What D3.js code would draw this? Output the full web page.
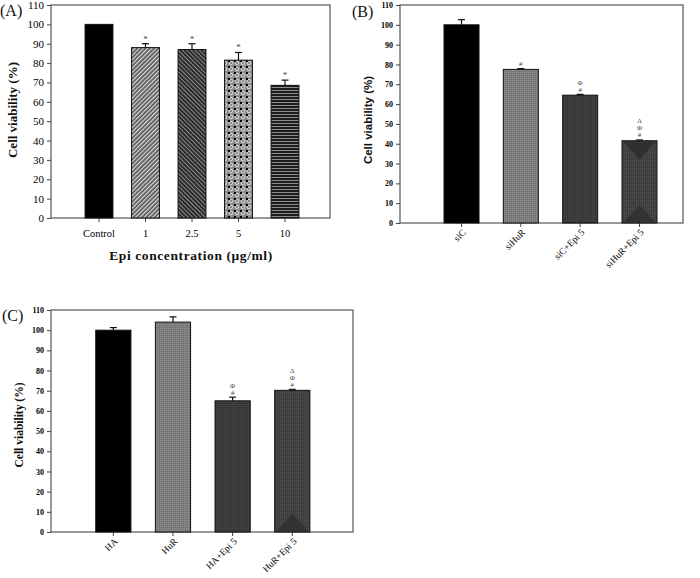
<!DOCTYPE html>
<html lang="en">
<head>
  <meta charset="UTF-8">
  <title>Cell viability</title>
  <script src="https://d3js.org/d3.v7.min.js"></script>
  <style>
    body { margin: 0; background: #fff; }
    svg { display: block; }
    .serif { font-family: "Liberation Serif", "DejaVu Serif", serif; }
    .sans { font-family: "Liberation Sans", Arial, sans-serif; }
  </style>
</head>
<body>
<div class="main"></div>
<script>
  // panel A
  var catsA = ["Control", "1", "2.5", "5", "10"];
  var valsA = [100, 88, 87, 81.5, 68.5];
  var errA = [0, 2, 3, 4, 2.7];
  var marksA = [[], ["*"], ["*"], ["*"], ["*"]];

  // panel B
  var catsB = ["siC", "siHuR", "siC+Epi 5", "siHuR+Epi 5"];
  var valsB = [100, 77.5, 64.5, 41.5];
  var errB = [2.6, 0.4, 0.4, 0.4];
  var marksB = [[], ["#"], ["#", "Φ"], ["#", "Φ", "Δ"]];

  // panel C
  var catsC = ["HA", "HuR", "HA+Epi 5", "HuR+Epi 5"];
  var valsC = [100, 104, 65, 70.2];
  var errC = [1.3, 2.6, 1.8, 0.5];
  var marksC = [[], [], ["#", "Φ"], ["#", "Φ", "Δ"]];

  var yTicks = d3.range(0, 111, 10);

  let width = 700;
  let height = 578;
  let svg = d3.select(".main").append("svg").attr("width", width).attr("height", height);
  let defs = svg.append("defs");

  // fill patterns
  function stripes(id, angle, bg, fg, size, lw) {
    let p = defs.append("pattern").attr("id", id).attr("patternUnits", "userSpaceOnUse")
      .attr("width", size).attr("height", size).attr("patternTransform", "rotate(" + angle + ")");
    p.append("rect").attr("width", size).attr("height", size).attr("fill", bg);
    p.append("rect").attr("width", lw).attr("height", size).attr("fill", fg);
  }
  stripes("pA1", 45, "#555", "#d8d8d8", 3, 1.3);
  stripes("pA2", -45, "#2a2a2a", "#8a8a8a", 3, 1);
  stripes("pA4", 90, "#1c1c1c", "#8e8e8e", 3, 1);

  let dots = defs.append("pattern").attr("id", "pA3").attr("patternUnits", "userSpaceOnUse")
    .attr("width", 6).attr("height", 6);
  dots.append("rect").attr("width", 6).attr("height", 6).attr("fill", "#8a8a8a");
  dots.append("circle").attr("cx", 3).attr("cy", 3).attr("r", 1.8).attr("fill", "none").attr("stroke", "#dcdcdc").attr("stroke-width", 0.9);
  dots.append("rect").attr("x", 0).attr("y", 0).attr("width", 2).attr("height", 2).attr("fill", "#000");

  function fineDots(id, bg, fg) {
    let p = defs.append("pattern").attr("id", id).attr("patternUnits", "userSpaceOnUse")
      .attr("width", 2).attr("height", 2);
    p.append("rect").attr("width", 2).attr("height", 2).attr("fill", bg);
    p.append("rect").attr("width", 1).attr("height", 1).attr("fill", fg);
  }
  fineDots("pMid", "#777", "#959595");
  fineDots("pDark", "#373737", "#4a4a4a");
  fineDots("pDark2", "#3d3d3d", "#525252");

  var fillsA = ["#000", "url(#pA1)", "url(#pA2)", "url(#pA3)", "url(#pA4)"];
  var fillsBC = ["#000", "url(#pMid)", "url(#pDark)", "url(#pDark2)"];

  function panel(cfg) {
    let g = svg.append("g");
    let y = d3.scaleLinear().domain([0, 110]).range([cfg.bottom, cfg.top]);
    let x = d3.scaleBand().domain(cfg.cats).range(cfg.xr).paddingInner(cfg.pad).paddingOuter(cfg.pad / 2);

    // frame
    g.append("rect").attr("x", cfg.left).attr("y", cfg.top).attr("width", cfg.right - cfg.left)
      .attr("height", cfg.bottom - cfg.top).attr("fill", "none").attr("stroke", "#555").attr("stroke-width", 1.2);

    // y axis
    let ya = g.append("g").attr("transform", "translate(" + cfg.left + ",0)")
      .call(d3.axisLeft(y).tickValues(yTicks).tickSize(4).tickPadding(3));
    ya.select(".domain").remove();
    ya.selectAll("line").attr("stroke", "#444");
    ya.selectAll("text").attr("class", "serif").attr("font-size", cfg.tickFont)
      .attr("font-weight", cfg.tickBold ? "bold" : "normal").attr("fill", "#000");

    // x axis
    let xa = g.append("g").attr("transform", "translate(0," + cfg.bottom + ")")
      .call(d3.axisBottom(x).tickSize(4).tickPadding(8));
    xa.select(".domain").remove();
    xa.selectAll("line").attr("stroke", "#444");
    if (cfg.rotate) {
      xa.selectAll("text").remove();
      // slanted category labels, each in its own rotated group
      g.selectAll(".xlab").data(cfg.cats).enter().append("g").attr("class", "xlab")
        .attr("transform", d => "translate(" + (x(d) + x.bandwidth() / 2 + 5) + "," + (cfg.bottom + 10) + ") rotate(-45)")
        .append("text").attr("class", "serif")
        .attr("font-size", cfg.xFont).attr("fill", "#000").attr("text-anchor", "end")
        .text(d => d);
    } else {
      xa.selectAll("text").attr("class", "serif").attr("font-size", cfg.xFont).attr("fill", "#000");
    }

    // bars
    g.selectAll(".bar").data(cfg.vals).enter().append("rect")
      .attr("x", (d, i) => x(cfg.cats[i])).attr("y", d => y(d))
      .attr("width", x.bandwidth()).attr("height", d => y(0) - y(d))
      .attr("fill", (d, i) => cfg.fills[i]).attr("stroke", "#111").attr("stroke-width", 1);

    // shading triangles seen in the last bar
    if (cfg.tri) {
      let i = cfg.cats.length - 1;
      let x0 = x(cfg.cats[i]), x1 = x0 + x.bandwidth(), xm = (x0 + x1) / 2;
      g.append("path").attr("d", "M" + (x0 + 1) + "," + (y(0) - 0.5) + "L" + xm + "," + y(9) + "L" + (x1 - 1) + "," + (y(0) - 0.5) + "Z")
        .attr("fill", "#2e2e2e").attr("opacity", 0.8);
      if (cfg.tri > 1) {
        g.append("path").attr("d", "M" + (x0 + 1) + "," + (y(cfg.vals[i]) + 0.5) + "L" + xm + "," + y(32) + "L" + (x1 - 1) + "," + (y(cfg.vals[i]) + 0.5) + "Z")
          .attr("fill", "#2c2c2c").attr("opacity", 0.8);
      }
    }

    // error bars
    cfg.vals.forEach(function (v, i) {
      if (!cfg.errs[i]) return;
      let cx = x(cfg.cats[i]) + x.bandwidth() / 2;
      g.append("line").attr("x1", cx).attr("x2", cx).attr("y1", y(v)).attr("y2", y(v + cfg.errs[i]))
        .attr("stroke", "#111").attr("stroke-width", 1.2);
      g.append("line").attr("x1", cx - 3.5).attr("x2", cx + 3.5).attr("y1", y(v + cfg.errs[i])).attr("y2", y(v + cfg.errs[i]))
        .attr("stroke", "#111").attr("stroke-width", 1.2);
    });

    // significance marks, stacked above the bar
    cfg.marks.forEach(function (m, i) {
      let cx = x(cfg.cats[i]) + x.bandwidth() / 2;
      m.forEach(function (s, k) {
        g.append("text").attr("class", "serif").attr("x", cx)
          .attr("y", y(cfg.vals[i] + cfg.errs[i]) - cfg.markGap - k * cfg.markStep)
          .attr("text-anchor", "middle").attr("font-size", cfg.markFont).attr("fill", "#444").text(s);
      });
    });

    // y title
    g.append("text").attr("class", cfg.yClass).attr("font-weight", "bold").attr("font-size", cfg.yFont)
      .attr("text-anchor", "middle").attr("fill", "#111")
      .attr("transform", "translate(" + cfg.yLabX + "," + cfg.yLabY + ") rotate(-90)").text("Cell viability (%)");

    // panel letter
    g.append("text").attr("class", "serif").attr("font-size", 16).attr("fill", "#111")
      .attr("x", cfg.letterX).attr("y", cfg.letterY).text(cfg.letter);
    return g;
  }

  panel({
    cats: catsA, vals: valsA, errs: errA, marks: marksA, fills: fillsA,
    left: 51, right: 330, top: 5, bottom: 218, xr: [75.75, 308.25], pad: 0.4,
    tickFont: 11, tickBold: false, xFont: 10.5, rotate: false,
    markFont: 9, markGap: 2, markStep: 7,
    yClass: "serif", yFont: 13, yLabX: 17, yLabY: 110,
    letter: "(A)", letterX: 0, letterY: 16
  });

  svg.append("text").attr("class", "serif").attr("font-weight", "bold").attr("font-size", 13.5)
    .attr("letter-spacing", 0.6).attr("text-anchor", "middle").attr("fill", "#111")
    .attr("x", 191).attr("y", 260).text("Epi concentration (μg/ml)");

  panel({
    cats: catsB, vals: valsB, errs: errB, marks: marksB, fills: fillsBC,
    left: 400, right: 683, top: 5, bottom: 223, xr: [431.85, 669.15], pad: 0.41,
    tickFont: 8, tickBold: true, xFont: 9.5, rotate: true,
    markFont: 7, markGap: 2.5, markStep: 7, tri: 2,
    yClass: "sans", yFont: 11.5, yLabX: 372, yLabY: 120,
    letter: "(B)", letterX: 352, letterY: 17
  });

  panel({
    cats: catsC, vals: valsC, errs: errC, marks: marksC, fills: fillsBC,
    left: 51, right: 353, top: 310, bottom: 532, xr: [83.5, 322.1], pad: 0.41,
    tickFont: 8, tickBold: true, xFont: 9.5, rotate: true,
    markFont: 7, markGap: 2.5, markStep: 7, tri: 1,
    yClass: "serif", yFont: 11.5, yLabX: 23, yLabY: 425,
    letter: "(C)", letterX: 2, letterY: 321
  });
</script>
</body>
</html>
